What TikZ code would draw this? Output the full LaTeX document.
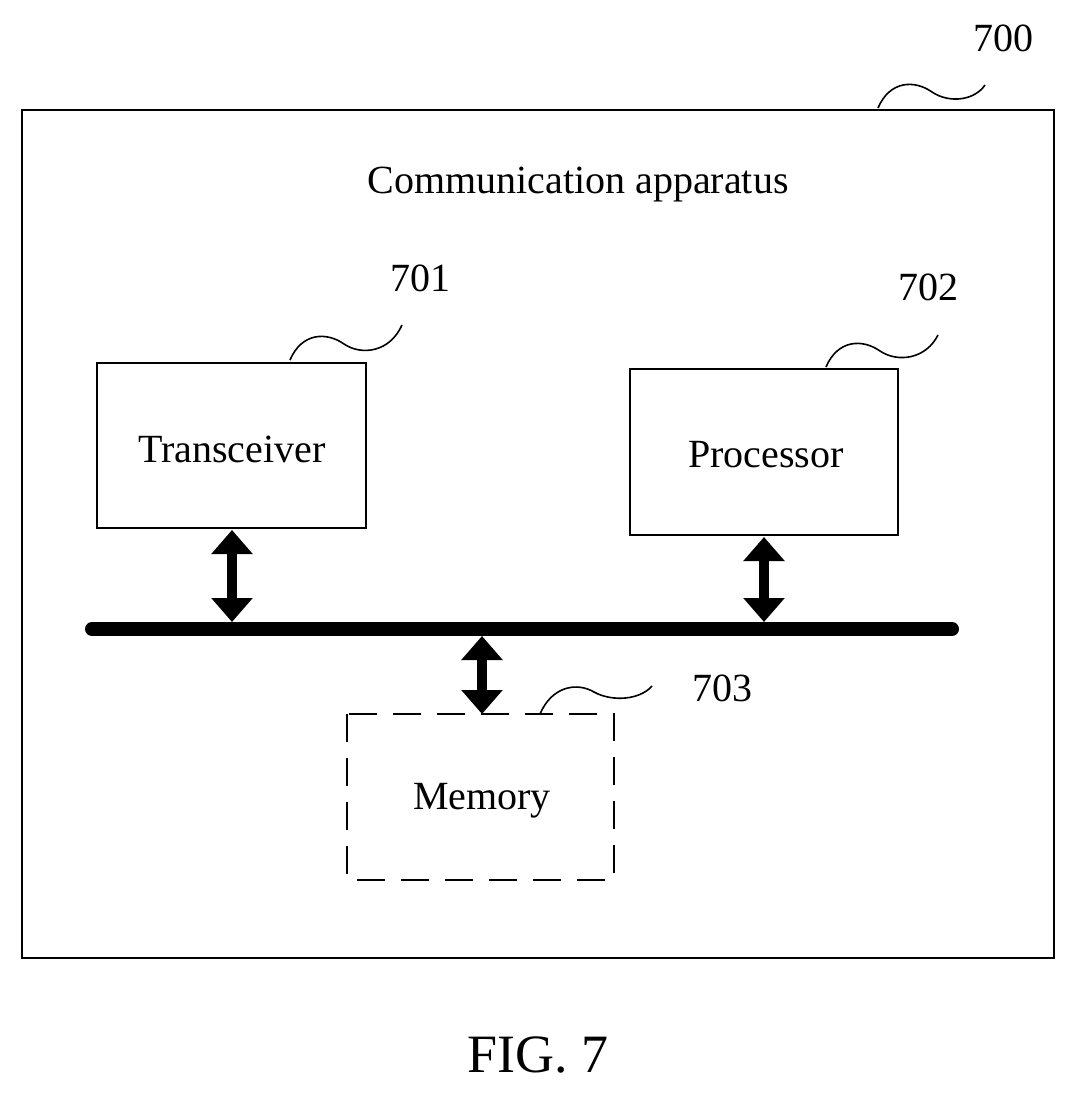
\documentclass[tikz,border=0pt]{standalone}
\usepackage{fontspec}
\setmainfont{Liberation Serif}
\usetikzlibrary{arrows.meta}
\begin{document}
\begin{tikzpicture}[x=0.5pt,y=-0.5pt,
 box/.style={draw,line width=1.2pt},
 txt/.style={font=\fontsize{20}{24}\selectfont},
 sq/.style={line width=0.8pt},
 dar/.style={line width=5pt,{Triangle[width=20pt,length=12pt]}-{Triangle[width=20pt,length=12pt]}}]
\useasboundingbox (0,0) rectangle (1076,1094);
\draw[box] (22,110) rectangle (1054,958);
\node[txt] (title) at (578,185) {Communication apparatus};
\draw[box] (97,363) rectangle (366,528);
\node[txt] (tr) at (232,449) {Transceiver};
\draw[box] (630,369) rectangle (898,535);
\node[txt] (pr) at (766,455) {Processor};
\draw[box,dashed,dash pattern=on 14pt off 8pt] (347,714) rectangle (614,880);
\node[txt] (me) at (482,801) {Memory};
\draw[line width=7pt,line cap=round] (92,629) -- (952,629);
\draw[dar] (232,530) -- (232,622);
\draw[dar] (764,537) -- (764,622);
\draw[dar] (482,636) -- (482,714);
\node[txt] (l700) at (1003,38) {700};
\node[txt] (l701) at (420,278) {701};
\node[txt] (l702) at (928,287) {702};
\node[txt] (l703) at (722,688) {703};
\draw[sq] (878,108) .. controls (890,80) and (915,80) .. (932,92) .. controls (950,104) and (975,100) .. (985,85);
\draw[sq] (290,360) .. controls (302,332) and (327,332) .. (344,344) .. controls (362,356) and (390,352) .. (402,325);
\draw[sq] (826,367) .. controls (838,339) and (863,339) .. (880,351) .. controls (898,363) and (926,359) .. (938,335);
\draw[sq] (540,714) .. controls (552,686) and (577,682) .. (594,692) .. controls (612,702) and (640,700) .. (652,686);
\node[font=\fontsize{27}{32}\selectfont] (fig) at (538,1055) {FIG. 7};
\end{tikzpicture}
\end{document}
